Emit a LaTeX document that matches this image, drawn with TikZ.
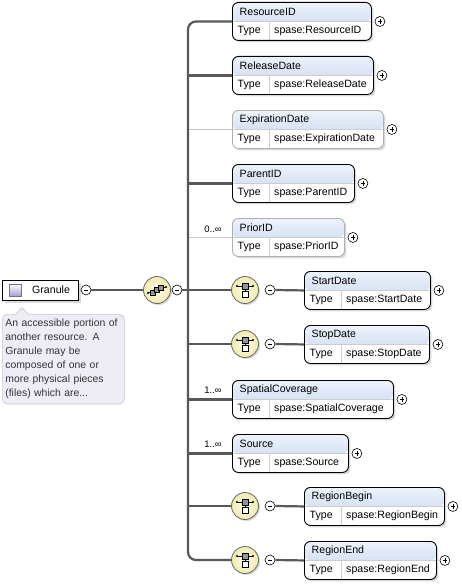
\documentclass[tikz,border=0pt]{standalone}
\usepackage{fontspec}
\setmainfont{Liberation Sans}
\usetikzlibrary{shadows,shadings,calc}
\definecolor{conncol}{RGB}{88,88,88}
\definecolor{optcol}{RGB}{175,175,175}
\definecolor{optline}{RGB}{200,200,200}
\definecolor{hdrtop}{RGB}{238,243,251}
\definecolor{hdrbot}{RGB}{190,208,238}
\definecolor{sepcol}{RGB}{205,205,205}
\definecolor{desccol}{RGB}{238,237,246}
\definecolor{descbord}{RGB}{200,200,215}
\definecolor{cmpin}{RGB}{255,254,232}
\definecolor{cmpout}{RGB}{240,234,175}
\definecolor{icongray}{RGB}{150,150,150}
\definecolor{lav}{RGB}{170,156,205}
\newcommand\xelem[7]{%
  \node[elbox,#7,minimum width=#4pt] (#1) at (#2,#3) {};
  \node[txt] (#1t) at ([xshift=7.5pt,yshift=-9.5pt]#1.north west) {#5};
  \node[txt] (#1k) at ([xshift=5.5pt,yshift=-28.5pt]#1.north west) {Type};
  \node[txt] (#1v) at ([xshift=42pt,yshift=-28.5pt]#1.north west) {#6};
  \node[plus] (#1p) at ([xshift=8pt]#1.east) {};
}
\begin{document}
\begin{tikzpicture}[x=1pt,y=-1pt,
  txt/.style={inner sep=0pt, font=\fontsize{10.6}{12}\selectfont, anchor=west},
  lbl/.style={inner sep=0pt, font=\fontsize{9.5}{10}\selectfont},
  elbox/.style={draw=black, line width=0.9pt, rounded corners=6pt, fill=white,
    anchor=north west, minimum height=38pt, inner sep=0pt,
    drop shadow={shadow xshift=2pt, shadow yshift=-2pt, opacity=0.3},
    path picture={
      \fill[top color=hdrtop,bottom color=hdrbot] (path picture bounding box.north west) rectangle ([yshift=-19pt]path picture bounding box.north east);
      \draw[sepcol,line width=0.6pt] ([yshift=-19pt]path picture bounding box.north west) -- ([yshift=-19pt]path picture bounding box.north east);
      \draw[sepcol,line width=0.6pt] ([xshift=37pt,yshift=-19pt]path picture bounding box.north west) -- ([xshift=37pt]path picture bounding box.south west);}},
  optbox/.style={draw=optcol},
  reqbox/.style={},
  pm/.style={circle, draw=black, line width=0.6pt, fill=white, minimum size=10pt, inner sep=0pt},
  plus/.style={pm, path picture={\draw[line width=0.6pt] ([xshift=-2.2pt]path picture bounding box.center) -- ([xshift=2.2pt]path picture bounding box.center) ([yshift=-2.2pt]path picture bounding box.center) -- ([yshift=2.2pt]path picture bounding box.center);}},
  minus/.style={pm, path picture={\draw[line width=0.6pt] ([xshift=-2.2pt]path picture bounding box.center) -- ([xshift=2.2pt]path picture bounding box.center);}},
  comp/.style={circle, draw=black!60, line width=0.8pt, minimum size=27pt, inner sep=0pt, inner color=cmpin, outer color=cmpout,
    drop shadow={shadow xshift=1.5pt, shadow yshift=-1.5pt, opacity=0.3}},
  conn/.style={draw=conncol, line width=2.2pt},
  optconn/.style={draw=optline, line width=1pt},
  pics/seqicon/.style={code={
    \draw[line width=0.6pt] (-9,3) -- (9,-3);
    \fill (-9,3) circle (1.1); \fill (9,-3) circle (1.1);
    \foreach \dx/\dy in {-4/2.5, 0/0, 4/-2.5}
      \draw[fill=icongray,line width=0.5pt] (\dx-2.6,\dy-2.6) rectangle (\dx+2.6,\dy+2.6);
  }},
  pics/choiceicon/.style={code={
    \draw[line width=0.6pt] (-8,-4) -- (8,-4);
    \fill (-8,-4) circle (1.1); \fill (8,-4) circle (1.1);
    \draw[line width=0.6pt] (0,-4) -- (0,2);
    \draw[fill=icongray,line width=0.5pt] (-3,-7) rectangle (3,-1);
    \draw[fill=white,line width=0.5pt] (-3,1.5) rectangle (3,7.5);
  }}
]
\useasboundingbox (0,0) rectangle (461,586);

% root element
\node[draw=black, line width=1pt, fill=white, anchor=north west, minimum width=76pt, minimum height=20pt, inner sep=0pt,
  drop shadow={shadow xshift=2pt, shadow yshift=-2pt, opacity=0.3}] (granule) at (2,280) {};
\node[draw=lav!70!black, line width=0.5pt, top color=white, bottom color=lav, minimum size=12pt, inner sep=0pt] (gicon) at (15,290) {};
\node[txt] (gtext) at (32,290) {Granule};
\node[minus] (gm) at (86,290) {};

% description
\node[draw=descbord, line width=0.7pt, fill=desccol, rounded corners=5pt, anchor=north west, text width=116pt,
  inner xsep=3pt, inner ysep=5pt, align=left, font=\fontsize{10.4}{14}\selectfont, text=black!80] (desc) at (2,314)
  {An accessible portion of\\another resource. A\\Granule may be\\composed of one or\\more physical pieces\\(files) which are...};
\fill[desccol] (15.5,314.8) -- (22,307.5) -- (28.5,314.8) -- cycle;
\draw[descbord, line width=0.7pt] (15.5,314.4) -- (22,307.5) -- (28.5,314.4);

% sequence compositor
\node[comp] (seq) at (157,290) {};
\pic at (seq) {seqicon};
\node[minus] (seqm) at (177,290) {};
\coordinate (bar) at (188,290);

% children
\xelem{ResourceID}{232}{2}{139}{ResourceID}{spase:ResourceID}{reqbox}
\xelem{ReleaseDate}{232}{56}{141}{ReleaseDate}{spase:ReleaseDate}{reqbox}
\xelem{ExpirationDate}{232}{110}{151}{ExpirationDate}{spase:ExpirationDate}{optbox}
\xelem{ParentID}{232}{164}{122}{ParentID}{spase:ParentID}{reqbox}
\xelem{PriorID}{232}{218}{112}{PriorID}{spase:PriorID}{optbox}
\xelem{StartDate}{304}{271}{126}{StartDate}{spase:StartDate}{reqbox}
\xelem{StopDate}{304}{325}{125}{StopDate}{spase:StopDate}{reqbox}
\xelem{SpatialCoverage}{232}{380}{161}{SpatialCoverage}{spase:SpatialCoverage}{reqbox}
\xelem{Source}{232}{434}{116}{Source}{spase:Source}{reqbox}
\xelem{RegionBegin}{304}{487}{140}{RegionBegin}{spase:RegionBegin}{reqbox}
\xelem{RegionEnd}{304}{541}{132}{RegionEnd}{spase:RegionEnd}{reqbox}

% choice compositors
\foreach \n/\yy in {cSD/290, cST/344, cRB/506, cRE/560}{
  \node[comp] (\n) at (245,\yy) {};
  \pic at (\n) {choiceicon};
  \node[minus] (\n m) at (270,\yy) {};
}

% occurrence labels
\node[lbl] (lPrior) at (213,229) {0..∞};
\node[lbl] (lSpat) at (213,390) {1..∞};
\node[lbl] (lSrc) at (213,444) {1..∞};

% connectors
\draw[conn] (gm.east) -- (seq.west);
\draw[conn] (seqm.east) -- (bar);
\draw[optconn] (bar |- ExpirationDate.west) -- (ExpirationDate.west);
\draw[optconn] (bar |- PriorID.west) -- (PriorID.west);
\draw[conn] (bar |- ReleaseDate.west) -- (ReleaseDate.west);
\draw[conn] (bar |- ParentID.west) -- (ParentID.west);
\draw[conn] (bar |- cSD.west) -- (cSD.west);
\draw[conn] (bar |- cST.west) -- (cST.west);
\draw[conn] (bar |- SpatialCoverage.west) -- (SpatialCoverage.west);
\draw[conn] (bar |- Source.west) -- (Source.west);
\draw[conn] (bar |- cRB.west) -- (cRB.west);
\draw[conn, rounded corners=8pt] (ResourceID.west) -| (bar) |- (cRE.west);
\draw[conn] (cSDm.east) -- (StartDate.west);
\draw[conn] (cSTm.east) -- (StopDate.west);
\draw[conn] (cRBm.east) -- (RegionBegin.west);
\draw[conn] (cREm.east) -- (RegionEnd.west);
\end{tikzpicture}
\end{document}
